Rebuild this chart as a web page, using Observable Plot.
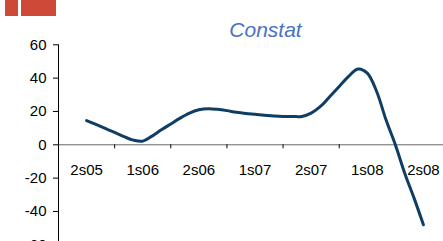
<!DOCTYPE html>
<html>
<head>
<meta charset="utf-8">
<script src="https://cdn.jsdelivr.net/npm/d3@7"></script>
<script src="https://cdn.jsdelivr.net/npm/@observablehq/plot@0.6"></script>
<style>
  html, body { margin: 0; padding: 0; background: #fff; overflow: hidden; width: 443px; height: 241px; }
  #wrap { position: relative; width: 443px; height: 241px; overflow: hidden; }
  .blk { position: absolute; top: 0; height: 16px; background: #cc4a37; }
  #title { position: absolute; left: 0; width: 531px; top: 19px; text-align: center; line-height: 21px;
           font: italic 21px "Liberation Sans", Arial, sans-serif; line-height: 21px; color: #4a72c2; }
  #chart { position: absolute; left: 0; top: 0; width: 460px; }
  #chart svg { max-width: none !important; }
</style>
</head>
<body>
<div id="wrap">
  <div class="blk" style="left:5px;width:13px"></div>
  <div class="blk" style="left:21px;width:35px"></div>
  <div id="chart"></div>
  <div id="title">Constat</div>
</div>
<script>
// Half-year categories (band labels)
const categories = ["2s05", "1s06", "2s06", "1s07", "2s07", "1s08", "2s08"];
// Monthly-resolution readings of the series (index 0 = middle of 2s05, step = 1/6 semester)
const values = [14.5, 12.2, 9.8, 7.4, 4.9, 2.8, 2.2, 5.2, 9, 12.5, 16, 19, 21, 21.7, 21.3,
                20.5, 19.5, 18.8, 18.3, 17.8, 17.3, 17, 17, 17, 19, 23, 29, 35, 41, 45.5,
                43, 32, 15, 0, -17, -32, -48];
const yTicks = [60, 40, 20, 0, -20, -40, -60];

const data = values.map((v, i) => ({x: 0.5 + i / 6, y: v}));
const yTickData = yTicks.map(v => ({y: v, label: String(v)}));
const xTickData = d3.range(categories.length + 1).map(i => ({x: i}));
const labels = categories.map((c, i) => ({x: i + 0.5, label: c}));

const font = '"Liberation Sans", Arial, sans-serif';
const W = 460, H = 250, ML = 58, MR = 9, MT = 44.3, MB = 5.7;
const pxPerX = (W - ML - MR) / categories.length;
const pxPerY = (H - MT - MB) / 120;

const chart = Plot.plot({
  width: W,
  height: H,
  marginLeft: ML,
  marginRight: MR,
  marginTop: MT,
  marginBottom: MB,
  style: {fontFamily: font, fontSize: "15px", color: "#000", background: "transparent", overflow: "visible", maxWidth: "none"},
  x: {type: "linear", domain: [0, categories.length], axis: null},
  y: {type: "linear", domain: [-60, 60], axis: null},
  marks: [
    Plot.ruleX([{x: 0}], {x: "x", stroke: "#000", strokeWidth: 1}),
    Plot.ruleY(yTickData, {y: "y", x1: () => 0, x2: () => -5 / pxPerX, stroke: "#000"}),
    Plot.text(yTickData, {x: () => 0, y: "y", text: "label", textAnchor: "end", dx: -12,
                          fontSize: 15, fill: "#000"}),
    Plot.ruleY([{y: 0}], {y: "y", stroke: "#666", strokeWidth: 1}),
    Plot.ruleX(xTickData, {x: "x", y1: () => 0, y2: () => -4 / pxPerY, stroke: "#000"}),
    Plot.text(labels, {x: "x", y: () => 0, text: "label", dy: 25, fontSize: 15, fill: "#000"}),
    Plot.line(data, {x: "x", y: "y", stroke: "#0e3e66", strokeWidth: 3, curve: "catmull-rom"})
  ]
});
chart.style.maxWidth = "none";
chart.style.width = W + "px";
chart.style.height = H + "px";
document.getElementById("chart").appendChild(chart);
</script>
</body>
</html>
